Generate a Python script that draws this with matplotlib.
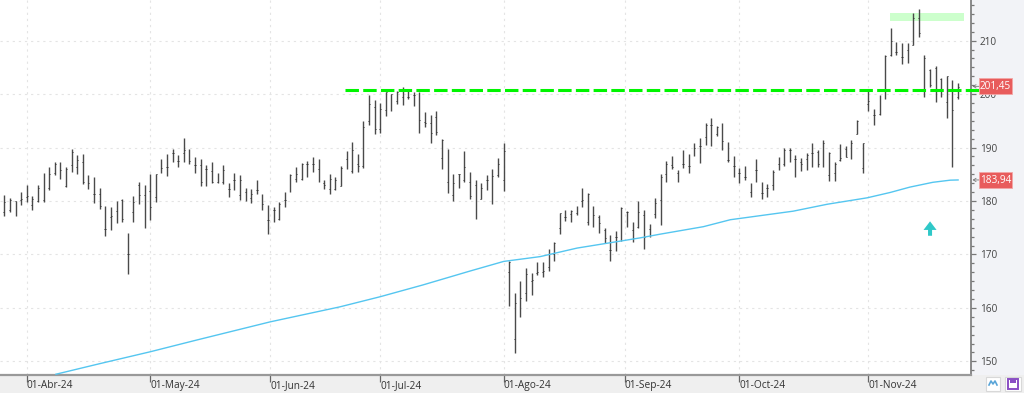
import matplotlib
matplotlib.use("Agg")
import matplotlib.pyplot as plt
import matplotlib.patches as mpatches
from matplotlib.transforms import blended_transform_factory
from matplotlib.ticker import AutoMinorLocator, NullFormatter

plt.rcParams['font.family'] = ['Open Sans', 'DejaVu Sans']

# daily bars
highs = [181.1,180.5,180.0,181.7,183.0,180.9,183.0,185.3,186.3,187.3,187.3,186.3,189.7,188.6,188.8,184.8,184.5,182.5,179.1,178.9,
         180.0,180.3,174.0,181.0,183.6,183.0,185.1,185.1,187.8,188.8,189.8,188.6,191.7,189.8,188.3,187.8,186.8,187.3,185.3,186.8,
         183.3,185.3,184.8,182.5,182.3,184.0,181.4,179.2,178.8,179.8,181.6,185.0,186.3,187.2,187.5,188.3,187.8,183.9,185.0,184.5,
         186.6,189.4,191.0,188.8,194.9,199.9,198.9,198.4,200.4,200.1,200.6,201.4,200.6,200.3,200.4,196.6,196.0,196.8,191.6,189.7,
         185.0,185.0,189.4,185.5,183.9,183.3,184.8,186.0,188.0,190.8,168.7,162.8,165.0,167.5,166.6,168.5,168.5,171.1,172.4,177.8,
         178.4,178.4,179.0,182.5,181.5,179.0,177.4,174.9,173.6,174.3,178.9,178.2,176.0,180.0,178.4,175.7,180.6,185.0,187.4,188.5,
         185.8,189.5,188.8,190.9,191.8,194.5,195.5,194.0,194.6,191.0,188.5,186.1,186.6,183.4,187.8,183.6,183.2,185.8,188.2,190.0,
         190.0,188.6,188.0,189.0,190.9,189.5,191.5,189.2,187.3,190.6,190.3,191.4,195.1,190.8,200.6,197.3,199.8,207.4,212.3,209.8,
         209.5,209.5,215.1,215.9,207.3,204.7,205.3,203.1,203.4,202.6,202.0]
lows = [177.2,178.0,177.2,179.3,179.8,178.3,179.8,179.8,182.0,184.8,184.1,182.6,185.5,185.1,183.1,182.2,179.7,178.6,173.4,174.5,
        175.9,176.1,166.3,176.1,179.4,175.0,176.5,179.8,185.3,184.7,187.3,186.4,187.3,186.9,185.3,182.8,182.8,183.4,183.4,183.1,
        180.8,182.0,180.2,180.0,179.7,181.4,178.4,173.9,176.0,176.5,178.8,181.6,183.5,183.9,184.5,185.5,183.6,182.3,181.3,182.0,
        182.8,185.9,185.2,185.5,186.2,194.2,192.6,192.8,195.9,196.8,198.2,197.9,199.0,197.7,192.8,193.8,190.8,192.3,185.9,181.5,
        180.0,182.5,183.5,180.4,176.7,180.3,182.1,179.4,184.5,181.8,160.3,151.5,158.3,161.3,162.4,166.1,165.8,167.0,168.8,173.8,
        176.2,176.0,177.4,178.9,175.6,175.2,174.1,172.1,168.8,170.7,172.6,175.1,172.4,174.9,171.0,173.3,176.9,175.6,183.6,186.0,
        183.5,186.1,185.2,188.4,187.2,190.5,190.2,192.2,189.5,187.3,184.5,183.4,184.0,180.8,183.6,180.3,180.8,182.0,185.8,186.5,
        187.3,184.5,185.6,185.8,186.3,186.4,186.4,183.7,183.7,187.5,188.3,187.8,192.5,185.3,196.9,194.2,196.1,199.1,207.2,207.3,
        205.6,205.9,209.1,210.7,199.5,201.4,198.6,199.4,195.6,186.4,199.0]
opens = [178.0,178.3,180.0,180.2,180.8,179.2,180.0,180.2,182.5,185.3,187.2,182.8,186.7,186.3,187.3,183.4,181.3,181.4,174.7,177.0,
         178.1,180.2,170.0,177.9,183.0,181.1,181.8,180.8,186.9,186.4,189.0,187.5,189.0,189.0,186.7,186.7,186.0,185.6,183.6,183.6,
         182.3,183.9,181.1,181.7,180.5,182.0,179.4,176.5,178.3,176.7,180.2,181.8,184.2,184.1,187.0,187.0,186.0,183.3,182.3,182.3,
         182.8,187.9,185.7,187.0,186.5,195.0,197.6,193.5,197.1,197.4,198.7,199.5,199.5,199.9,195.1,194.8,194.6,195.7,188.0,183.6,
         181.2,185.0,184.0,183.5,183.0,180.4,183.9,181.7,184.8,184.0,166.7,154.1,161.8,162.8,165.0,166.6,166.8,167.7,170.1,174.9,
         177.0,177.6,177.8,180.0,176.0,177.3,177.0,174.5,170.8,173.2,172.7,177.9,174.5,175.1,177.3,174.7,177.6,180.1,185.0,186.7,
         185.2,187.0,186.6,190.0,190.2,192.0,194.2,192.5,191.2,187.7,186.5,185.2,184.5,181.7,185.8,181.5,182.4,183.0,187.0,187.0,
         189.5,187.8,187.3,187.8,188.9,189.2,188.6,184.9,185.2,187.7,189.8,188.8,192.5,186.1,198.1,196.1,196.2,200.6,207.3,207.9,
         206.9,208.3,209.2,214.2,202.6,204.5,204.8,202.9,198.6,198.0,199.5]
closes = [179.8,180.2,180.0,180.3,181.0,180.3,182.5,184.0,185.0,187.0,185.8,186.0,189.1,187.6,183.6,183.4,181.3,179.0,174.7,177.2,
          179.7,176.6,170.0,179.8,181.1,181.1,178.9,185.0,186.1,186.4,189.0,187.5,189.6,187.4,186.7,183.6,186.0,183.6,184.5,185.8,
          182.3,183.9,183.9,181.7,181.4,182.0,179.4,176.5,178.3,179.4,180.2,184.8,185.0,187.0,187.0,187.0,183.8,183.0,184.1,183.9,
          186.1,189.2,189.6,186.5,193.8,198.1,193.5,197.3,200.3,200.1,200.4,200.8,199.5,199.9,195.1,194.6,192.8,193.0,191.4,189.7,
          183.3,185.0,186.4,180.9,180.0,182.5,183.9,184.7,186.9,189.4,168.6,160.9,161.9,166.3,165.2,166.8,166.9,170.1,172.1,177.7,
          177.1,178.1,178.9,180.1,181.4,177.3,175.8,173.1,170.8,173.2,178.7,177.9,173.1,177.9,173.2,175.4,179.7,184.4,187.0,186.4,
          184.8,186.9,186.6,190.0,190.2,194.2,194.2,193.9,191.2,187.7,186.5,185.2,184.5,181.7,185.8,181.5,182.4,185.5,187.0,189.5,
          189.5,187.8,187.0,188.6,188.9,187.0,190.8,189.0,187.0,188.0,188.3,190.8,195.0,190.8,198.8,196.0,199.5,207.2,210.0,207.9,
          206.9,208.3,214.2,211.4,206.7,201.7,200.8,200.8,203.3,197.1,201.4]
bars = range(len(highs))

# moving average, sampled along the curve
ma_idx = [9.2,17.1,26,34.3,47.4,59.8,67,74.6,83,89,95.5,102.1,109.2,113.3,116.9,124.6,129.4,140.6,146.7,153.8,157.9,161.4,165.5,168.6,170]
ma_val = [147.6,149.6,151.8,154.0,157.4,160.2,162.1,164.3,166.9,168.7,169.6,171.2,172.4,173.1,173.8,175.2,176.5,178.1,179.4,180.6,181.6,182.6,183.5,183.9,183.94]

date_pos = [3.96,26,47.4,67,89,110.6,131,154]
date_labels = ['01-Abr-24','01-May-24','01-Jun-24','01-Jul-24','01-Ago-24','01-Sep-24','01-Oct-24','01-Nov-24']
price_ticks = [150,160,170,180,190,200,210]
last_prices = [201.45, 183.94]
last_labels = ['201,45', '183,94']

W, H = 1024, 393
fig = plt.figure(figsize=(W/100, H/100), dpi=100, facecolor='#f2f3f7')
ax = fig.add_axes([0, 1-374.5/H, 971/W, 374.5/H], facecolor='white')

# bottom band, behind the axes
fig.patches.append(mpatches.Rectangle((0, 0), 1, 1-374.5/H, transform=fig.transFigure, fc='#efefef', ec='none', zorder=-1))

ax.set_xlim(-0.77, 172.3)
ax.set_ylim(147.55, 217.6)

ax.grid(True, which='major', color='#e4e4e4', ls=(0, (2, 3.5)), lw=0.8)
ax.set_axisbelow(True)

# OHLC bars
ax.vlines(bars, lows, highs, color='#4a4a4a', lw=1.0, zorder=3)
ax.hlines(opens, [b-0.16 for b in bars], bars, color='#333333', lw=0.7, zorder=3)
ax.hlines(closes, bars, [b+0.16 for b in bars], color='#333333', lw=0.7, zorder=3)

ax.plot(ma_idx, ma_val, color='#55c6f0', lw=1.0, zorder=4)

# resistance line and zone
ax.plot([60.7, 174], [200.75, 200.75], color='#00f500', lw=2.2, ls=(0, (4.4, 1.4)), zorder=5, clip_on=False)
ax.add_patch(mpatches.Rectangle((157.9, 213.6), 13.2, 1.6, fc='#ccffcc', ec='none', zorder=2))

# arrow
ax.annotate('', xy=(165, 176.2), xytext=(165, 173.5),
            arrowprops=dict(width=2.9, headwidth=9.4, headlength=6.2, color='#2fc8c8', shrink=0, lw=0), zorder=5)

ax.set_xticks(date_pos)
ax.set_xticklabels(date_labels, fontsize=7.3, color='#333333', ha='left')
ax.set_yticks(price_ticks)
ax.yaxis.tick_right()
ax.yaxis.set_minor_locator(AutoMinorLocator(6))
ax.yaxis.set_minor_formatter(NullFormatter())
ax.tick_params(axis='y', which='major', length=3.6, width=0.9, color='#777777', labelsize=7.2, labelcolor='#444444', pad=2.9)
ax.tick_params(axis='y', which='minor', length=2.2, width=0.9, color='#777777')
ax.tick_params(axis='x', which='major', length=5, width=0.9, color='#666666', direction='out', pad=-1)

for s in ['top', 'left']:
    ax.spines[s].set_visible(False)
ax.spines['right'].set_color('#777777')
ax.spines['right'].set_linewidth(1.2)
ax.spines['bottom'].set_color('#999999')
ax.spines['bottom'].set_linewidth(1.6)

# last price boxes on the right
trans = blended_transform_factory(fig.transFigure, ax.transData)
for price, text in zip(last_prices, last_labels):
    ax.annotate('', xy=(972.5/W, price), xytext=(979/W, price), xycoords=trans, textcoords=trans,
                arrowprops=dict(arrowstyle='->,head_width=0.12,head_length=0.2', color='#777777', lw=0.6, shrinkA=0, shrinkB=0),
                annotation_clip=False)
    ax.add_patch(mpatches.Rectangle((979/W, price-1.5), 33/W, 3.0, transform=trans, fc='#e85c5c', ec='#f2a6a6',
                                    lw=0.6, zorder=9, clip_on=False))
    ax.text(995.5/W, price-0.05, text, transform=trans, fontsize=7.2, color='white', ha='center', va='center',
            zorder=10, clip_on=False)

# toolbar buttons in the corner
def px_rect(x0, y0, w, h, **kw):
    fig.patches.append(mpatches.Rectangle((x0/W, 1-(y0+h)/H), w/W, h/H, transform=fig.transFigure, **kw))

px_rect(986, 376.5, 14, 14, fc='white', ec='#d8d8d8', lw=0.8, zorder=5)
px_rect(1005, 376.5, 16, 14, fc='white', ec='#d8d8d8', lw=0.8, zorder=5)
fig.add_artist(plt.Line2D([989/W, 991/W, 993/W, 995/W, 997/W], [1-385/H, 1-381/H, 1-384/H, 1-381/H, 1-385/H],
                          color='#5aa5d8', lw=1.2, zorder=7))
px_rect(1008, 379, 9.5, 10, fc='none', ec='#8a4fc4', lw=1.4, zorder=6)
px_rect(1010, 379, 5.5, 3.5, fc='#8a4fc4', ec='none', zorder=6)

fig.savefig('out.png', dpi=100, facecolor=fig.get_facecolor())
